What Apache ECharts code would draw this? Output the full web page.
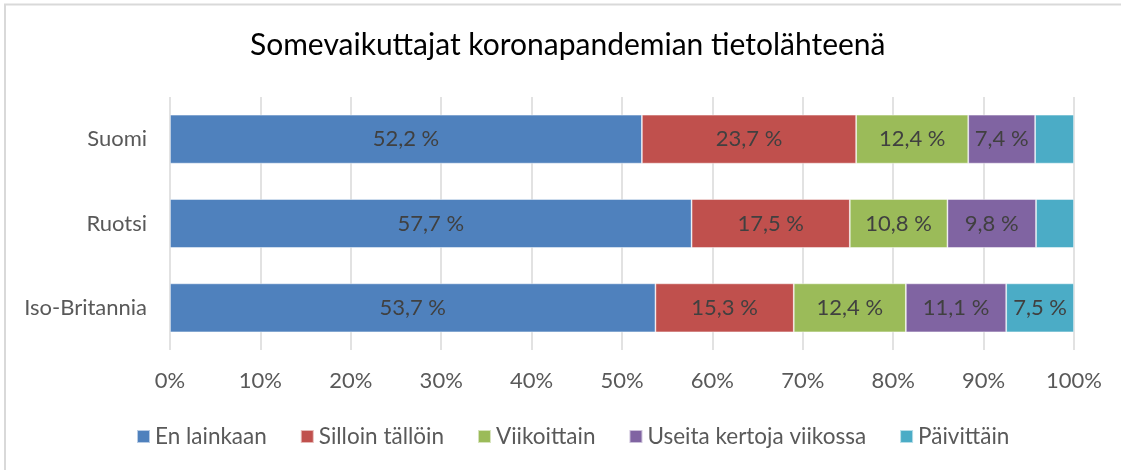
<!DOCTYPE html>
<html>
<head>
<meta charset="utf-8">
<script src="https://cdn.jsdelivr.net/npm/echarts@6/dist/echarts.min.js"></script>
<style>
  html, body { margin: 0; padding: 0; background: #fff; }
  #chart { width: 1121px; height: 470px; }
</style>
</head>
<body>
<div id="chart"></div>
<script>
// Countries, bottom to top as drawn on the category axis
const countries = ['Iso-Britannia', 'Ruotsi', 'Suomi'];

// Share of respondents (%) per answer, in the same country order
const enLainkaan = [53.7, 57.7, 52.2];
const silloinTalloin = [15.3, 17.5, 23.7];
const viikoittain = [12.4, 10.8, 12.4];
const useitaKertoja = [11.1, 9.8, 7.4];
const paivittain = [7.5, 4.2, 4.3];

// Which values carry a printed label (the two thin segments go without)
const paivittainLabelled = [true, false, false];

const seriesNames = ['En lainkaan', 'Silloin tällöin', 'Viikoittain', 'Useita kertoja viikossa', 'Päivittäin'];
const seriesColors = ['#4f81bd', '#c0504d', '#9bbb59', '#8064a2', '#4bacc6'];
const seriesValues = [enLainkaan, silloinTalloin, viikoittain, useitaKertoja, paivittain];

const FONT = 'Lato';

function fmt(v) {
  return v.toFixed(1).replace('.', ',') + ' %';
}

const series = seriesValues.map((vals, i) => ({
  name: seriesNames[i],
  type: 'bar',
  stack: 'total',
  barCategoryGap: '42%',
  itemStyle: { color: seriesColors[i], borderColor: 'rgba(255,255,255,0.6)', borderWidth: 0.8 },
  label: {
    show: true,
    position: 'inside',
    color: '#404040',
    fontFamily: FONT,
    fontSize: 22,
    formatter: p => fmt(p.value)
  },
  data: vals.map((v, j) => {
    if (i === 4 && !paivittainLabelled[j]) {
      return { value: v, label: { show: false } };
    }
    return v;
  })
}));

const chart = echarts.init(document.getElementById('chart'));
chart.setOption({
  animation: false,
  backgroundColor: '#fff',
  title: {
    text: 'Somevaikuttajat koronapandemian tietolähteenä',
    left: 245,
    top: 25,
    textStyle: { fontFamily: FONT, fontSize: 30, fontWeight: 'normal', color: '#000' }
  },
  legend: {
    bottom: 17,
    left: 131,
    icon: 'rect',
    itemWidth: 13,
    itemHeight: 13,
    itemGap: 33,
    textStyle: { fontFamily: FONT, fontSize: 22.5, color: '#595959' },
    data: seriesNames
  },
  grid: { left: 170, right: 47, top: 97, bottom: 120, containLabel: false },
  xAxis: {
    type: 'value',
    min: 0,
    max: 100,
    interval: 10,
    axisLine: { show: false },
    axisTick: { show: false },
    splitLine: { lineStyle: { color: '#d9d9d9', width: 1.5 } },
    axisLabel: { formatter: '{value}%', margin: 20, fontFamily: FONT, fontSize: 22, color: '#595959' }
  },
  yAxis: {
    type: 'category',
    data: countries,
    axisLine: { show: false },
    axisTick: { show: false },
    axisLabel: { margin: 23, fontFamily: FONT, fontSize: 22, color: '#595959' }
  },
  graphic: [{
    type: 'rect',
    shape: { x: 5, y: 4.5, width: 1200, height: 600 },
    style: { fill: 'none', stroke: '#d9d9d9', lineWidth: 2 },
    silent: true
  }],
  series: series
});
</script>
</body>
</html>
